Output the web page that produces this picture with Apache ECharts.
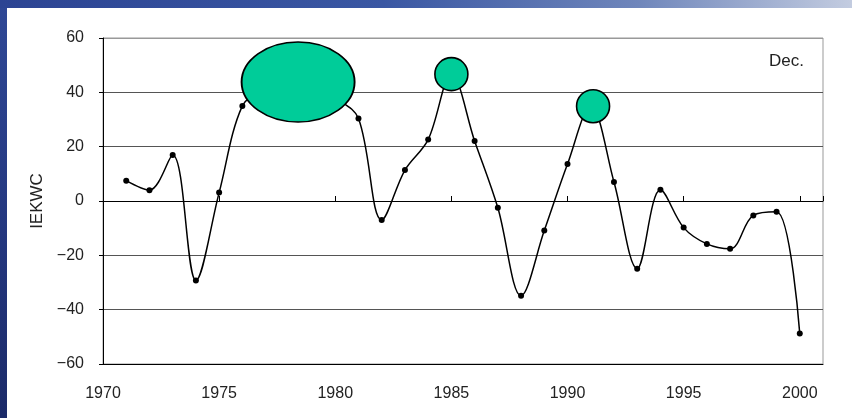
<!DOCTYPE html>
<html>
<head>
<meta charset="utf-8">
<script src="https://cdn.jsdelivr.net/npm/echarts@6/dist/echarts.min.js"></script>
<style>
  html, body { margin:0; padding:0; width:852px; height:418px; overflow:hidden; }
  body { position:relative; background: linear-gradient(180deg, #2f4896 0%, #24377f 55%, #1b2a68 100%); }
  #topbar { position:absolute; left:0; top:0; width:852px; height:8px;
    background: linear-gradient(90deg, #2c4493 0%, #3a57a3 45%, #6f86bb 75%, #c3cce0 100%); }
  #chart { position:absolute; left:7px; top:8px; width:845px; height:410px; background:#ffffff; }
</style>
</head>
<body>
<div id="topbar"></div>
<div id="chart"></div>
<script>
// ---- data ----
const years  = [1971,1972,1973,1974,1975,1976,1977,1978,1979,1980,1981,1982,1983,1984,1985,1986,1987,1988,1989,1990,1991,1992,1993,1994,1995,1996,1997,1998,1999,2000];
const values = [7.5,4.0,16.9,-29.3,3.1,35.0,41,44,43,38,30.4,-7.0,11.4,22.6,46.7,22.1,-2.5,-34.9,-10.9,13.6,34.9,7.0,-24.9,4.1,-9.8,-15.8,-17.6,-5.3,-4.0,-48.8];
const bubbleYears  = [1978.4, 1985.0, 1991.1];
const bubbleValues = [43.8, 46.7, 34.9];
const xTicks = [1970,1975,1980,1985,1990,1995,2000];
const yTicks = [-60,-40,-20,0,20,40,60];
const panelLabel = 'Dec.';
const yName = 'IEKWC';

const lineData = years.map((y, i) => [y, values[i]]);
const bubbleSizes = [[113, 80], [33, 33], [33, 33]];
const bubbleData = bubbleYears.map((y, i) => ({ value: [y, bubbleValues[i]], symbolSize: bubbleSizes[i] }));

const FONT = 'Liberation Sans, Arial, Helvetica, sans-serif';
const chart = echarts.init(document.getElementById('chart'));
chart.setOption({
  animation: false,
  grid: { left: 96, top: 30, right: 29, bottom: 54, show: true, borderColor: '#999', borderWidth: 1, backgroundColor: 'transparent' },
  xAxis: [
    { type: 'value', min: xTicks[0], max: 2001, interval: 5, position: 'bottom',
      axisLine: { show: true, onZero: false, lineStyle: { color: '#000', width: 1 } },
      axisTick: { show: false },
      splitLine: { show: false },
      axisLabel: { fontFamily: FONT, fontSize: 16, color: '#222', margin: 22,
        formatter: v => (xTicks.indexOf(v) >= 0 ? String(v) : '') } },
    { type: 'value', min: xTicks[0], max: 2001, interval: 5, position: 'bottom',
      axisLine: { show: true, onZero: true, lineStyle: { color: '#000', width: 1 } },
      axisTick: { show: true, inside: true, length: 5, lineStyle: { color: '#000' } },
      splitLine: { show: false },
      axisLabel: { show: false } }
  ],
  yAxis: {
    type: 'value', min: yTicks[0], max: yTicks[yTicks.length - 1], interval: 20,
    name: yName, nameLocation: 'middle', nameGap: 54, nameRotate: 90,
    nameTextStyle: { fontFamily: FONT, fontSize: 17, color: '#222' },
    axisLine: { show: true, lineStyle: { color: '#000', width: 1 } },
    axisTick: { show: true, length: 4, lineStyle: { color: '#000' } },
    splitLine: { show: true, lineStyle: { color: ['#555','#555','#555','#000','#555','#555','#999'], width: 1 } },
    axisLabel: { fontFamily: FONT, fontSize: 16, color: '#222', margin: 19,
      formatter: v => String(v).replace('-', '\u2212') }
  },
  graphic: [{
    type: 'text', right: 48, top: 45,
    style: { text: panelLabel, fontFamily: FONT, fontSize: 17, fill: '#222' }
  }],
  series: [
    { type: 'line', data: lineData, smooth: 0.35, z: 2,
      symbol: 'circle', symbolSize: 6, showSymbol: true,
      itemStyle: { color: '#000' }, lineStyle: { color: '#000', width: 1.5 } },
    { type: 'scatter', data: bubbleData, z: 3,
      itemStyle: { color: '#00cc99', borderColor: '#000', borderWidth: 1.6, opacity: 1 } }
  ]
});
</script>
</body>
</html>
